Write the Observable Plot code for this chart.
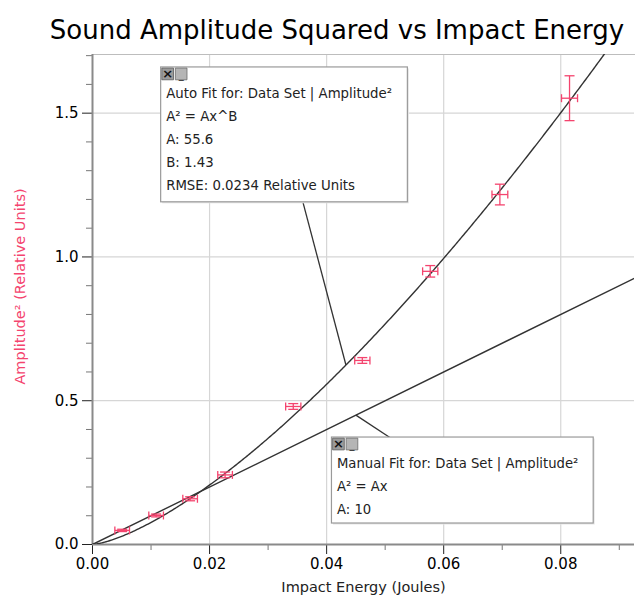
<!DOCTYPE html>
<html><head><meta charset="utf-8">
<script src="https://cdn.jsdelivr.net/npm/d3@7"></script>
<script src="https://cdn.jsdelivr.net/npm/@observablehq/plot@0.6"></script>
<style>
body{margin:0;background:#fff;font-family:"DejaVu Sans",sans-serif;}
#title{height:53px;width:635px;box-sizing:border-box;padding-left:39px;text-align:center;font-size:26px;line-height:60px;color:#000;white-space:nowrap;}
</style></head><body>
<div id="title">Sound Amplitude Squared vs Impact Energy</div>
<div id="chart"></div>
<script>
// ---- data ----
const energy    = [0.00507, 0.01087, 0.01668, 0.02265, 0.0343, 0.0461, 0.0577, 0.0696, 0.0815];
const energyErr = [0.00125, 0.00125, 0.00125, 0.00125, 0.0013, 0.0013, 0.0013, 0.00135, 0.00137];
const amp2      = [0.049, 0.101, 0.159, 0.242, 0.480, 0.640, 0.950, 1.217, 1.552];
const amp2Err   = [0.004, 0.005, 0.007, 0.010, 0.010, 0.010, 0.020, 0.036, 0.078];
const autoA = 55.6, autoB = 1.43, autoRmse = 0.0234;
const manualA = 10;
const xTicks = [0, 0.02, 0.04, 0.06, 0.08];
const yTicks = [0, 0.5, 1.0, 1.5];
const xMinor = [0.01, 0.03, 0.05, 0.07, 0.09];
const yMinor = [0.1, 0.2, 0.3, 0.4, 0.6, 0.7, 0.8, 0.9, 1.1, 1.2, 1.3, 1.4, 1.6, 1.7];
const autoLines = ["Auto Fit for: Data Set | Amplitude²", "A² = Ax^B", "A: " + autoA, "B: " + autoB, "RMSE: " + autoRmse + " Relative Units"];
const manualLines = ["Manual Fit for: Data Set | Amplitude²", "A² = Ax", "A: " + manualA];

// ---- derived tables ----
const xMax = 0.0926, yMax = 1.704;
const points = energy.map((x, i) => ({x, xe: energyErr[i], y: amp2[i], ye: amp2Err[i]}));
const autoFit = x => autoA * Math.pow(x, autoB);
const autoCurve = d3.range(0, 401).map(i => { const x = xMax * i / 400; return {x, y: autoFit(x)}; });
const manualCurve = [0, xMax].map(x => ({x, y: manualA * x}));

// annotation placement (data coordinates)
const autoBox = {x1: 0.01173, x2: 0.05388, y1: 1.190, y2: 1.659};
const manualBox = {x1: 0.04091, x2: 0.08563, y1: 0.073, y2: 0.372};
const leaders = [
  {x1: 0.03596, y1: autoBox.y1, x2: 0.0433, y2: autoFit(0.0433)},
  {x1: 0.0508, y1: manualBox.y2, x2: 0.0450, y2: manualA * 0.0450}
];

const pink = "#f4446e";
const vbar = {draw(ctx) { ctx.moveTo(0, -4); ctx.lineTo(0, 4); }};
const hbar = {draw(ctx) { ctx.moveTo(-5, 0); ctx.lineTo(5, 0); }};

function boxMarks(box, lines, fs) {
  const marks = [
    Plot.rect([box], {x1: "x1", x2: "x2", y1: "y1", y2: "y2", fill: "#e6e6e6", dx: 1.5, dy: 1.5}),
    Plot.rect([box], {x1: "x1", x2: "x2", y1: "y1", y2: "y2", fill: "white", stroke: "#9a9a9a", strokeWidth: 1.2}),
    Plot.dot([box], {x: "x1", y: "y2", dx: 6.5, dy: 6.5, symbol: "square", r: 6.6, fill: "#9b9b9b", stroke: "#5a5a5a", strokeWidth: 0.8}),
    Plot.dot([box], {x: "x1", y: "y2", dx: 20, dy: 6.5, symbol: "square", r: 6.6, fill: "#b5b5b5", stroke: "#6a6a6a", strokeWidth: 0.8}),
    Plot.text([box], {x: "x1", y: "y2", dx: 6.5, dy: 6.5, text: () => "×", fontSize: 13, fontWeight: "bold", fill: "#111"}),
    Plot.text([box], {x: "x1", y: "y2", dx: 20, dy: 7.5, text: () => "_", fontSize: 10, fill: "#222"})
  ];
  lines.forEach((t, i) => marks.push(
    Plot.text([box], {x: "x1", y: "y2", text: () => t, dx: 5, dy: 26 + i * 23, textAnchor: "start", fontSize: fs, fill: "#222"})
  ));
  return marks;
}

const chart = Plot.plot({
  width: 635, height: 546,
  marginTop: 1, marginBottom: 55, marginLeft: 92, marginRight: 1,
  style: {fontFamily: "DejaVu Sans, sans-serif", background: "white", overflow: "visible"},
  x: {domain: [0, xMax]},
  y: {domain: [0, yMax]},
  marks: [
    Plot.gridX(xTicks.slice(1), {stroke: "#d6d6d6", strokeOpacity: 1, strokeWidth: 1.2}),
    Plot.gridY(yTicks.slice(1), {stroke: "#d6d6d6", strokeOpacity: 1, strokeWidth: 1.2}),
    Plot.frame({anchor: "top", stroke: "#bdbdbd", strokeWidth: 1.2}),
    Plot.axisX(xMinor, {tickSize: 6, tickFormat: () => "", stroke: "#777", label: null}),
    Plot.axisY(yMinor, {tickSize: 6, tickFormat: () => "", stroke: "#777", label: null}),
    Plot.axisX(xTicks, {tickSize: 10, tickPadding: 4, tickFormat: d3.format(".2f"), fontSize: 15, stroke: "#222", label: null}),
    Plot.axisY(yTicks, {tickSize: 10, tickPadding: 4, tickFormat: d3.format(".1f"), fontSize: 15, stroke: "#222", label: null}),
    Plot.ruleY([0], {stroke: "#8a8a8a", strokeWidth: 2}),
    Plot.ruleX([0], {stroke: "#8a8a8a", strokeWidth: 2}),
    Plot.line(manualCurve, {x: "x", y: "y", stroke: "#333", strokeWidth: 1.4, clip: true}),
    Plot.line(autoCurve, {x: "x", y: "y", stroke: "#333", strokeWidth: 1.4, clip: true}),
    Plot.link(leaders, {x1: "x1", y1: "y1", x2: "x2", y2: "y2", stroke: "#333", strokeWidth: 1.3}),
    // error bars
    Plot.link(points, {x1: d => d.x - d.xe, x2: d => d.x + d.xe, y1: "y", y2: "y", stroke: pink, strokeWidth: 1.3}),
    Plot.link(points, {x1: "x", x2: "x", y1: d => d.y - d.ye, y2: d => d.y + d.ye, stroke: pink, strokeWidth: 1.3}),
    Plot.dot(points, {x: d => d.x - d.xe, y: "y", symbol: vbar, stroke: pink, strokeWidth: 1.3, fill: "none"}),
    Plot.dot(points, {x: d => d.x + d.xe, y: "y", symbol: vbar, stroke: pink, strokeWidth: 1.3, fill: "none"}),
    Plot.dot(points, {x: "x", y: d => d.y - d.ye, symbol: hbar, stroke: pink, strokeWidth: 1.3, fill: "none"}),
    Plot.dot(points, {x: "x", y: d => d.y + d.ye, symbol: hbar, stroke: pink, strokeWidth: 1.3, fill: "none"}),
    ...boxMarks(autoBox, autoLines, 13.3),
    ...boxMarks(manualBox, manualLines, 13.2),
    // axis titles
    Plot.text(["Impact Energy (Joules)"], {frameAnchor: "bottom", dy: 47, fontSize: 14.5, fill: "#222"}),
    Plot.text(["Amplitude² (Relative Units)"], {frameAnchor: "left", textAnchor: "middle", dx: -72, dy: -13, rotate: -90, fontSize: 14.5, fill: pink})
  ]
});
document.getElementById("chart").appendChild(chart);
</script>
</body></html>
